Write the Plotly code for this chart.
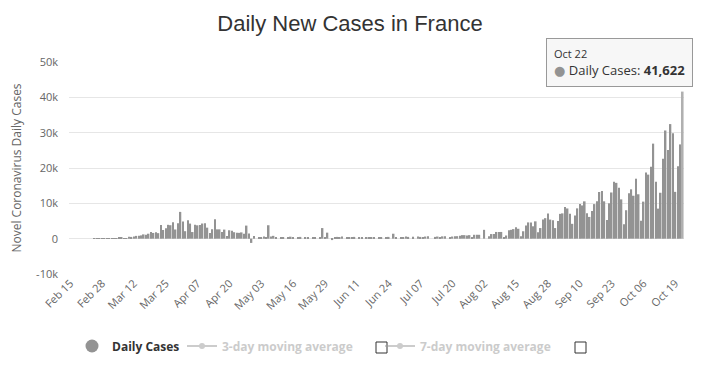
import pandas as pd
import plotly.graph_objects as go

# ---------------- data ----------------
start_date = "2020-02-15"
end_date = "2020-10-22"

daily_cases = (
    # Feb 15 - Feb 29
    [0, 0, 0, 0, 0, 0, 0, 0, 0, 0, 2, 4, 20, 19, 43]
    # Mar 1 - Mar 31
    + [30, 61, 13, 81, 92, 276, 296, 177, 83, 575, 497, 595, 785, 838, 924, 1210,
       1097, 1404, 1861, 1617, 1847, 1559, 3838, 2446, 2931, 3922, 3809, 4611, 2599,
       4376, 7578]
    # Apr 1 - Apr 30
    + [4861, 2116, 5233, 4267, 1873, 3912, 3777, 3881, 4286, 4342, 3114, 1613, 2673,
       5497, 2633, 2641, 1909, 2569, 785, 2383, 2256, 1827, 1653, 1645, 1773, 1400,
       3700, 1450, -1200, 760]
    # May 1 - May 31
    + [0, 500, 300, 580, 300, 3800, 600, 800, 500, 0, 350, 450, 0, 400, 560, 300, 0,
       350, 500, 0, 400, 350, 0, 250, 300, 0, 200, 3000, 250, 1700, 0]
    # Jun 1 - Jun 30
    + [-400, 300, 500, 400, 600, 0, 350, 300, 400, 500, 0, 450, 400, 0, 350, 450, 400,
       500, 0, 300, 450, 0, 250, 500, 0, 1400, 300, 0, 500, 400]
    # Jul 1 - Jul 31
    + [600, 500, 0, 550, 0, 600, 500, 400, 600, 700, 0, 0, 500, 600, 500, 650, 700, 0,
       500, 600, 650, 700, 800, 1000, 1000, 900, 1000, 500, 1100, 1100, 1100]
    # Aug 1 - Aug 31
    + [0, 2500, 0, 700, 1300, 1300, 1900, 1900, 1900, 500, 900, 2400, 2500, 2700, 3200,
       2800, 700, 2100, 3700, 4600, 4600, 3500, 4900, 1800, 3000, 5400, 5800, 7100,
       5400, 5200, 3000]
    # Sep 1 - Sep 30
    + [4982, 7017, 7157, 8975, 8550, 7071, 4203, 6544, 8577, 9843, 9406, 10561, 7183,
       6158, 7852, 9784, 10593, 13215, 13498, 10569, 5298, 10008, 13072, 16096, 15797,
       14412, 11123, 4070, 8051, 12845]
    # Oct 1 - Oct 22
    + [13970, 12148, 16972, 12565, 5084, 10489, 18746, 18129, 20339, 26896, 16101, 8505,
       12993, 22591, 30621, 25086, 32427, 29837, 13243, 20468, 26676, 41622]
)

x_tick_labels = ["Feb 15", "Feb 28", "Mar 12", "Mar 25", "Apr 07", "Apr 20", "May 03",
                 "May 16", "May 29", "Jun 11", "Jun 24", "Jul 07", "Jul 20", "Aug 02",
                 "Aug 15", "Aug 28", "Sep 10", "Sep 23", "Oct 06", "Oct 19"]
y_tick_values = [-10000, 0, 10000, 20000, 30000, 40000, 50000]
y_tick_labels = ["-10k", "0", "10k", "20k", "30k", "40k", "50k"]

series_name = "Daily Cases"
ma3_name = "3-day moving average"
ma7_name = "7-day moving average"
title_text = "Daily New Cases in France"
y_title = "Novel Coronavirus Daily Cases"

# ---------------- build ----------------
dates = pd.date_range(start_date, end_date, freq="D")
assert len(dates) == len(daily_cases), (len(dates), len(daily_cases))
s = pd.Series(daily_cases, index=dates)
ma3 = s.rolling(3).mean()
ma7 = s.rolling(7).mean()
tick_vals = [pd.Timestamp(lbl + " 2020") for lbl in x_tick_labels]

# the page body has an 8px margin: the figure is sized so it fits the window
OFF = 8
PAGE_W, PAGE_H = 706, 367
W, H = PAGE_W - OFF, PAGE_H - OFF
# plot area in page pixels
PX0, PX1, PY0, PY1 = 69, 684, 62, 274
L, R, T, B = PX0 - OFF, W - (PX1 - OFF), PY0 - OFF, H - (PY1 - OFF)
PW, PH = PX1 - PX0, PY1 - PY0


def px_to_paper_x(px):
    return (px - PX0) / PW


def px_to_paper_y(py):
    return (PY1 - py) / PH


BAR = "#939393"
bar_colors = [BAR] * (len(daily_cases) - 1) + ["#b0b0b0"]
FONT = "Open Sans, DejaVu Sans, sans-serif"

fig = go.Figure()
fig.add_trace(go.Bar(
    x=dates, y=daily_cases, marker=dict(color=bar_colors, line=dict(width=0)),
    name=series_name, showlegend=False,
))
fig.add_trace(go.Scatter(
    x=[None], y=[None], mode="markers", name="<b>%s</b>" % series_name,
    marker=dict(symbol="circle", size=13, color=BAR), legend="legend",
))
fig.add_trace(go.Scatter(
    x=dates, y=ma3, mode="lines+markers", name="<b>%s</b>" % ma3_name,
    visible="legendonly", legend="legend2",
    line=dict(color="#9a9a9a", width=2), marker=dict(size=6),
))
fig.add_trace(go.Scatter(
    x=dates, y=ma7, mode="lines+markers", name="<b>%s</b>" % ma7_name,
    visible="legendonly", legend="legend3",
    line=dict(color="#9a9a9a", width=2), marker=dict(size=6),
))

tick_font = dict(family=FONT, size=11, color="#666666")


def legend_at(page_x, color):
    return dict(
        orientation="h", x=px_to_paper_x(page_x), xanchor="left",
        y=px_to_paper_y(346), yanchor="middle",
        font=dict(family=FONT, size=12, color=color),
        bgcolor="rgba(0,0,0,0)", borderwidth=0,
    )


fig.update_layout(
    width=W, height=H,
    margin=dict(l=L, r=R, t=T, b=B, autoexpand=False),
    paper_bgcolor="white", plot_bgcolor="white",
    bargap=0.36,
    title=dict(text=title_text, x=(350 - OFF) / W, xanchor="center",
               y=1 - (23 - OFF) / H, yanchor="middle",
               font=dict(family="Liberation Sans, Arial, sans-serif", size=22,
                         color="#333333")),
    xaxis=dict(
        type="date",
        range=[dates[0] - pd.Timedelta(hours=12), dates[-1] + pd.Timedelta(hours=12)],
        tickvals=tick_vals, ticktext=x_tick_labels, tickangle=-45,
        tickfont=tick_font, showgrid=False, zeroline=False,
        showline=False, ticks="",
    ),
    yaxis=dict(
        range=[-10000, 50000], tickvals=y_tick_values, ticktext=y_tick_labels,
        tickfont=tick_font, showgrid=True, gridcolor="#e6e6e6", gridwidth=1,
        zeroline=True, zerolinecolor="#e6e6e6", zerolinewidth=1,
        ticks="", ticklabelstandoff=10,
        title=dict(text=y_title, standoff=16,
                   font=dict(family=FONT, size=12, color="#666666")),
    ),
    legend=legend_at(72, "#333333"),
    legend2=legend_at(182, "#999999"),
    legend3=legend_at(380, "#999999"),
    hovermode=False,
    showlegend=True,
)

# checkbox squares next to the moving-average legend items
for cx in (376, 575):
    fig.add_shape(type="rect", xref="paper", yref="paper",
                  x0=px_to_paper_x(cx), x1=px_to_paper_x(cx + 11),
                  y0=px_to_paper_y(342), y1=px_to_paper_y(353),
                  line=dict(color="#333333", width=1), fillcolor="white", layer="above")

# tooltip for the last point
last_date = dates[-1]
last_val = daily_cases[-1]
tooltip = ("<span style='font-size:11px'>%s</span><br>"
           "<span style='color:%s'>●</span> %s: <b>%s</b>") % (
    last_date.strftime("%b %d"), BAR, series_name, format(last_val, ","))
fig.add_annotation(
    xref="paper", yref="paper", x=px_to_paper_x(619), y=px_to_paper_y(62.5),
    xanchor="center", yanchor="middle", align="left", showarrow=False,
    text=tooltip, bgcolor="rgba(247,247,247,0.95)", bordercolor="#999999",
    borderwidth=1, borderpad=7,
    font=dict(family=FONT, size=13, color="#333333"),
)

fig.write_html("out.html")
